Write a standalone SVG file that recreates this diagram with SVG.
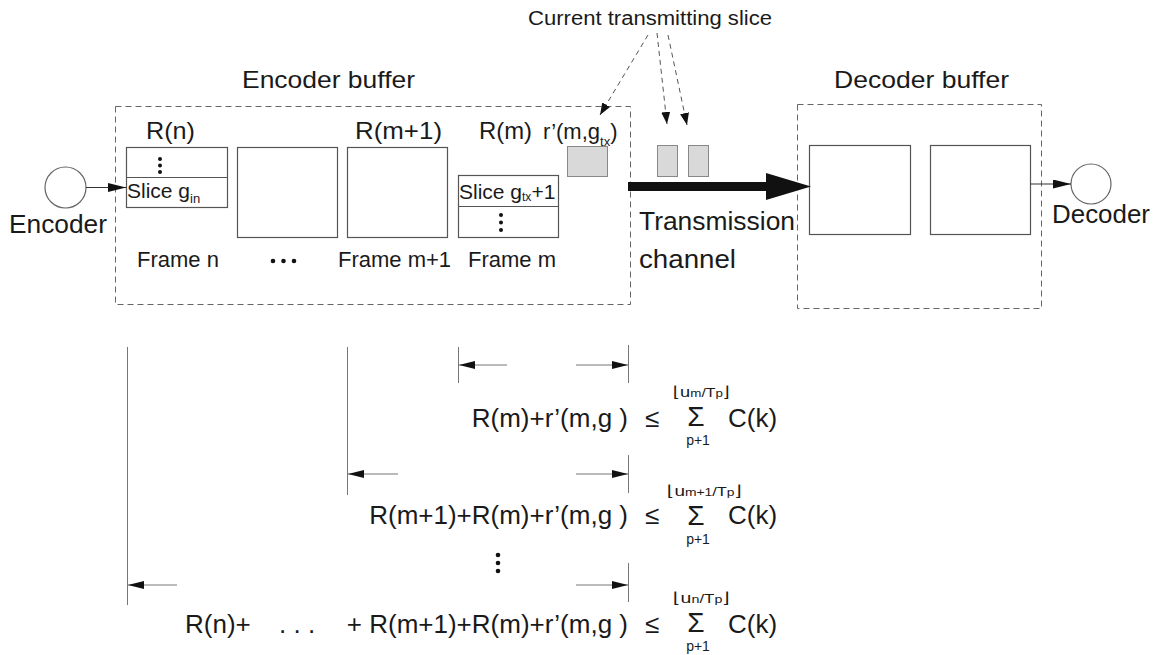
<svg xmlns="http://www.w3.org/2000/svg" width="1159" height="655" viewBox="0 0 1159 655">
<style>
.t{font-family:"Liberation Sans",Arial,"DejaVu Sans",sans-serif;fill:#1a1a1a}
.box{fill:none;stroke:#555;stroke-width:1.2}
.dash{fill:none;stroke:#666;stroke-width:1;stroke-dasharray:6 4}
.cl{fill:none;stroke:#555;stroke-width:1;stroke-dasharray:5 4}
.ln{stroke:#333;stroke-width:1.2;fill:none}
.dim{stroke:#777;stroke-width:1;fill:none}
.gray{fill:#d9d9d9;stroke:#888;stroke-width:1}
.circ{fill:#fff;stroke:#666;stroke-width:1.2}
</style>
<defs>
<marker id="ah" viewBox="0 0 18 9" refX="18" refY="4.5" markerWidth="18" markerHeight="9" markerUnits="userSpaceOnUse" orient="auto"><path d="M0,0 L18,4.5 L0,9 Z" fill="#111"/></marker>
<marker id="dh" viewBox="0 0 16 8" refX="16" refY="4" markerWidth="16" markerHeight="8" markerUnits="userSpaceOnUse" orient="auto"><path d="M0,0 L16,4 L0,8 Z" fill="#111"/></marker>
<marker id="ch" viewBox="0 0 12 9" refX="12" refY="4.5" markerWidth="12" markerHeight="9" markerUnits="userSpaceOnUse" orient="auto"><path d="M0,0 L12,4.5 L0,9 Z" fill="#111"/></marker>
</defs>

<g id="label-current">
<text class="t" x="528" y="25" font-size="20" textLength="244" lengthAdjust="spacingAndGlyphs">Current transmitting slice</text>
</g>

<g id="encoder-buffer">
<rect class="dash" x="115.5" y="106.5" width="515" height="198"/>
<text class="t" x="242" y="88" font-size="24" textLength="173" lengthAdjust="spacingAndGlyphs">Encoder buffer</text>
</g>

<g id="frame-n">
<text class="t" x="146" y="139" font-size="24" textLength="49" lengthAdjust="spacingAndGlyphs">R(n)</text>
<rect class="box" x="126.5" y="147.5" width="101" height="60"/>
<line class="box" x1="126.5" y1="177.5" x2="227.5" y2="177.5"/>
<circle cx="160" cy="159" r="2" fill="#111"/><circle cx="160" cy="165.5" r="2" fill="#111"/><circle cx="160" cy="172" r="2" fill="#111"/>
<text class="t" x="127" y="198" font-size="21">Slice g<tspan font-size="13" dy="5">in</tspan></text>
<text class="t" x="137" y="267" font-size="22">Frame n</text>
</g>

<g id="frame-mid">
<rect class="box" x="237.5" y="147.5" width="100" height="90"/>
<circle cx="273" cy="261" r="2.3" fill="#111"/><circle cx="283.5" cy="261" r="2.3" fill="#111"/><circle cx="294" cy="261" r="2.3" fill="#111"/>
</g>

<g id="frame-m1">
<text class="t" x="355" y="139" font-size="24" textLength="87" lengthAdjust="spacingAndGlyphs">R(m+1)</text>
<rect class="box" x="347.5" y="147.5" width="100" height="90"/>
<text class="t" x="338" y="267" font-size="22">Frame m+1</text>
</g>

<g id="frame-m">
<text class="t" x="479" y="139" font-size="24" textLength="53" lengthAdjust="spacingAndGlyphs">R(m)</text>
<rect class="box" x="458.5" y="175.5" width="100" height="62"/>
<line class="box" x1="458.5" y1="206.5" x2="558.5" y2="206.5"/>
<text class="t" x="459" y="199" font-size="21">Slice g<tspan font-size="12" dy="2">tx</tspan><tspan dy="-2">+1</tspan></text>
<circle cx="501" cy="215" r="2" fill="#111"/><circle cx="501" cy="222.5" r="2" fill="#111"/><circle cx="501" cy="230" r="2" fill="#111"/>
<text class="t" x="468" y="267" font-size="22">Frame m</text>
</g>

<g id="slice-tx">
<text class="t" x="543" y="139" font-size="22">r’(m,g<tspan font-size="13" dy="7">tx</tspan><tspan font-size="22" dy="-7">)</tspan></text>
<rect class="gray" x="567.5" y="146.5" width="40" height="30"/>
</g>

<g id="encoder">
<circle class="circ" cx="65.5" cy="187.5" r="20.5"/>
<text class="t" x="9" y="233" font-size="25" textLength="98" lengthAdjust="spacingAndGlyphs">Encoder</text>
</g>

<g id="channel">
<rect class="gray" x="657.5" y="145.5" width="20" height="31"/>
<rect class="gray" x="688.5" y="145.5" width="20" height="31"/>
<text class="t" x="639" y="230" font-size="25" textLength="156" lengthAdjust="spacingAndGlyphs">Transmission</text>
<text class="t" x="639" y="268" font-size="25" textLength="97" lengthAdjust="spacingAndGlyphs">channel</text>
</g>

<g id="decoder-buffer">
<rect class="dash" x="797.5" y="104.5" width="244" height="204"/>
<text class="t" x="834" y="88" font-size="24" textLength="175" lengthAdjust="spacingAndGlyphs">Decoder buffer</text>
<rect class="box" x="809.5" y="145.5" width="101" height="89"/>
<rect class="box" x="930.5" y="145.5" width="100" height="89"/>
</g>

<g id="decoder">
<circle class="circ" cx="1091" cy="184" r="20"/>
<text class="t" x="1052" y="223" font-size="25" textLength="98" lengthAdjust="spacingAndGlyphs">Decoder</text>
</g>

<g id="connectors">
<line class="ln" x1="86" y1="187.5" x2="126" y2="187.5" marker-end="url(#ah)"/>
<line class="ln" x1="1030" y1="184" x2="1071" y2="184" marker-end="url(#ah)"/>
<line x1="628" y1="186.5" x2="768" y2="186.5" stroke="#111" stroke-width="9"/>
<polygon points="766,173 811,186.5 766,200" fill="#111"/>
<line class="cl" x1="648" y1="35" x2="600" y2="115" marker-end="url(#ch)"/>
<line class="cl" x1="657" y1="33" x2="667" y2="124" marker-end="url(#ch)"/>
<line class="cl" x1="668" y1="35" x2="687" y2="125" marker-end="url(#ch)"/>
</g>

<g id="dimension-lines">
<line class="dim" x1="127.5" y1="347" x2="127.5" y2="605"/>
<line class="dim" x1="347.5" y1="347" x2="347.5" y2="495"/>
<line class="dim" x1="458.5" y1="347" x2="458.5" y2="383"/>
<line class="dim" x1="628.5" y1="345" x2="628.5" y2="383"/>
<line class="dim" x1="628.5" y1="455" x2="628.5" y2="493"/>
<line class="dim" x1="628.5" y1="563" x2="628.5" y2="602"/>
<line class="dim" x1="507" y1="365" x2="459" y2="365" marker-end="url(#dh)"/>
<line class="dim" x1="576" y1="365" x2="628" y2="365" marker-end="url(#dh)"/>
<line class="dim" x1="398" y1="474" x2="348" y2="474" marker-end="url(#dh)"/>
<line class="dim" x1="576" y1="474" x2="628" y2="474" marker-end="url(#dh)"/>
<line class="dim" x1="177" y1="585" x2="128" y2="585" marker-end="url(#dh)"/>
<line class="dim" x1="576" y1="585" x2="628" y2="585" marker-end="url(#dh)"/>
</g>

<g id="formula-1">
<text class="t" x="628" y="427" font-size="26" text-anchor="end">R(m)+r’(m,g )</text>
<text class="t" x="645" y="427" font-size="26">≤</text>
<text class="t" x="696" y="426" font-size="28" text-anchor="middle">Σ</text>
<text class="t" x="728" y="427" font-size="26">C(k)</text>
<text class="t" x="673" y="397" font-size="15" textLength="57" lengthAdjust="spacingAndGlyphs">⌊u<tspan font-size="11">m</tspan><tspan font-size="13">/T</tspan><tspan font-size="11">p</tspan>⌋</text>
<text class="t" x="698" y="445" font-size="14" text-anchor="middle">p+1</text>
</g>

<g id="formula-2">
<text class="t" x="628" y="524" font-size="26" text-anchor="end">R(m+1)+R(m)+r’(m,g )</text>
<text class="t" x="645" y="524" font-size="26">≤</text>
<text class="t" x="696" y="525" font-size="28" text-anchor="middle">Σ</text>
<text class="t" x="728" y="524" font-size="26">C(k)</text>
<text class="t" x="667" y="496" font-size="15" textLength="75" lengthAdjust="spacingAndGlyphs">⌊u<tspan font-size="11">m+1</tspan><tspan font-size="13">/T</tspan><tspan font-size="11">p</tspan>⌋</text>
<text class="t" x="698" y="544" font-size="14" text-anchor="middle">p+1</text>
</g>

<g id="vdots">
<circle cx="498" cy="555" r="2.3" fill="#111"/><circle cx="498" cy="563" r="2.3" fill="#111"/><circle cx="498" cy="571" r="2.3" fill="#111"/>
</g>

<g id="formula-3">
<text class="t" x="185" y="633" font-size="26">R(n)+</text>
<text class="t" x="279" y="633" font-size="26">. . .</text>
<text class="t" x="628" y="633" font-size="26" text-anchor="end">+ R(m+1)+R(m)+r’(m,g )</text>
<text class="t" x="645" y="633" font-size="26">≤</text>
<text class="t" x="696" y="632" font-size="28" text-anchor="middle">Σ</text>
<text class="t" x="728" y="633" font-size="26">C(k)</text>
<text class="t" x="673" y="603" font-size="15" textLength="57" lengthAdjust="spacingAndGlyphs">⌊u<tspan font-size="11">n</tspan><tspan font-size="13">/T</tspan><tspan font-size="11">p</tspan>⌋</text>
<text class="t" x="698" y="651" font-size="14" text-anchor="middle">p+1</text>
</g>
</svg>
